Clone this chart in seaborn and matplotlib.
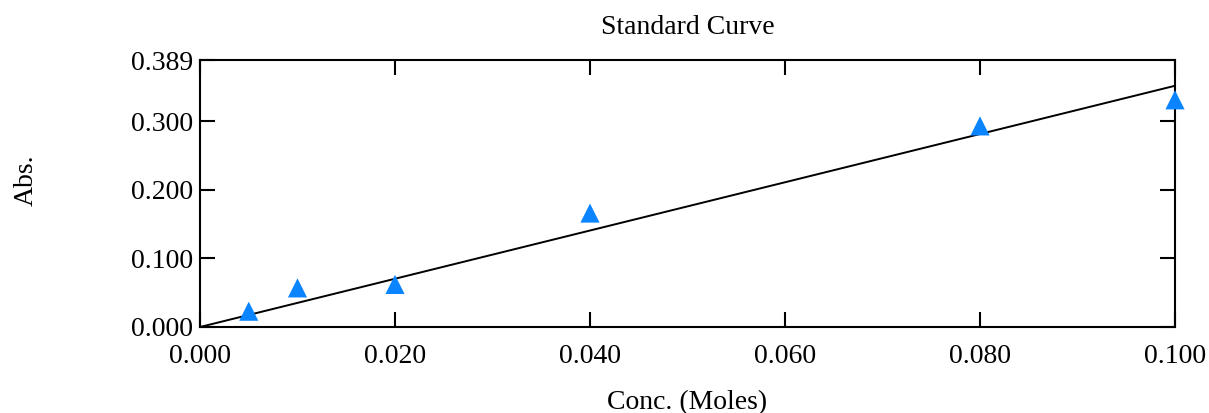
import numpy as np
import pandas as pd
import matplotlib
matplotlib.use("Agg")
import matplotlib.pyplot as plt
import seaborn as sns

# Standards: concentration (moles) and measured absorbance
conc = [0.005, 0.010, 0.020, 0.040, 0.080, 0.100]
absorb = [0.023, 0.057, 0.062, 0.166, 0.293, 0.331]

x_ticks = [0.000, 0.020, 0.040, 0.060, 0.080, 0.100]
y_ticks = [0.000, 0.100, 0.200, 0.300, 0.389]

sns.set_style("ticks")
plt.rcParams["font.family"] = ["Liberation Serif", "DejaVu Serif"]
plt.rcParams["text.color"] = "black"
plt.rcParams["axes.labelcolor"] = "black"

df = pd.DataFrame({"conc": conc, "abs": absorb})

# Linear fit forced through the origin
xs = np.array(conc)
ys = np.array(absorb)
slope = float(np.sum(xs * ys) / np.sum(xs * xs))
fit = pd.DataFrame({"conc": [0.0, 0.1], "abs": [0.0, slope * 0.1]})

fig = plt.figure(figsize=(12.09, 4.13), dpi=100)
ax = fig.add_axes([200 / 1209, 1 - 327 / 413, 975 / 1209, 267 / 413])

sns.lineplot(data=fit, x="conc", y="abs", ax=ax, color="black", linewidth=1.4)
sns.scatterplot(data=df, x="conc", y="abs", ax=ax, marker="^", s=190,
                color="#0a84ff", edgecolor="none", zorder=5, clip_on=False)

ax.set_xlim(0, 0.1)
ax.set_ylim(0, 0.389)
ax.set_xticks(x_ticks)
ax.set_xticklabels([f"{v:.3f}" for v in x_ticks])
ax.set_yticks(y_ticks)
ax.set_yticklabels([f"{v:.3f}" for v in y_ticks])

ax.tick_params(direction="in", length=11, width=1.5, labelsize=20,
               top=True, right=True, colors="black")
ax.tick_params(axis="x", pad=12)
ax.tick_params(axis="y", pad=5)
for sp in ax.spines.values():
    sp.set_linewidth(1.5)
    sp.set_color("black")

ax.set_title("Standard Curve", fontsize=20, pad=19, color="black")
ax.set_xlabel("Conc. (Moles)", fontsize=20, color="black")
ax.set_ylabel("Abs.", fontsize=20, color="black")
ax.xaxis.set_label_coords(0.5, -0.235)
ax.yaxis.set_label_coords(-0.165, 0.55)

fig.savefig("out.png", dpi=100)
